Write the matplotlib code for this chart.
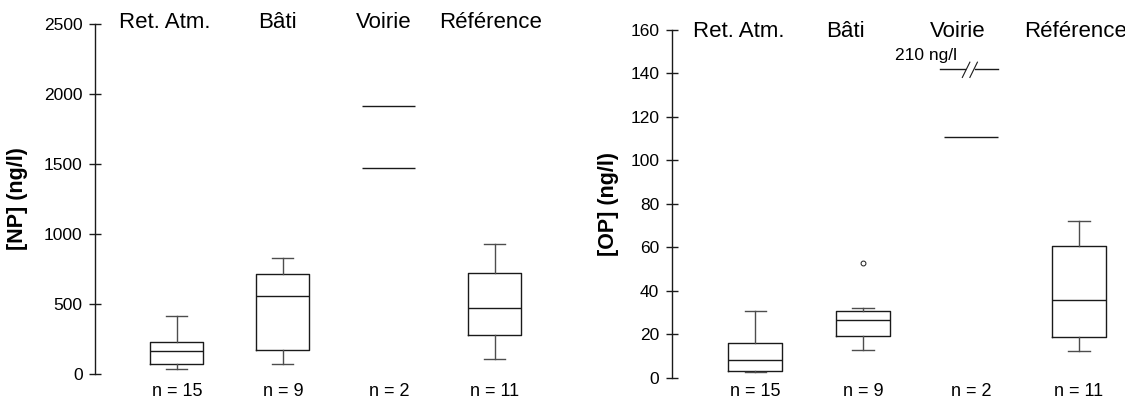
import matplotlib
matplotlib.use('Agg')
import matplotlib.pyplot as plt
import matplotlib.transforms as mtransforms

plt.rcParams['font.family'] = ['Liberation Sans', 'DejaVu Sans']

#### data
categories = ['Ret. Atm.', 'Bâti', 'Voirie', 'Référence']
n_counts = [15, 9, 2, 11]

## groups drawn as box plots (Voirie only has 2 values, drawn as lines)
box_groups = ['Ret. Atm.', 'Bâti', 'Référence']
box_pos = [1, 2, 4]

## [NP] (ng/l)
np_whislo = [33, 74, 109]
np_q1 = [71, 174, 276]
np_med = [167, 559, 474]
np_q3 = [231, 714, 724]
np_whishi = [414, 831, 931]
np_fliers = [[], [], []]
np_voirie = [1469, 1917]

## [OP] (ng/l)
op_whislo = [2.6, 12.9, 12.6]
op_q1 = [3.1, 19.3, 19.0]
op_med = [8.3, 26.5, 35.9]
op_q3 = [16.0, 30.7, 60.5]
op_whishi = [30.8, 32.0, 72.0]
op_fliers = [[], [53], []]
op_voirie = [110.5, 210]
op_break_at = 142   # the 210 value is drawn on a broken scale here


def make_stats(whislo, q1, med, q3, whishi, fliers):
    stats = []
    for i in range(len(med)):
        stats.append(dict(whislo=whislo[i], q1=q1[i], med=med[i], q3=q3[i],
                          whishi=whishi[i], fliers=fliers[i], label=box_groups[i]))
    return stats


box_col = '#1a1a1a'
whisk_col = '#4d4d4d'


def draw_panel(ax, stats, xlim, ylim, yticks, ylabel, label_x, label_y, label_xfig, label_yfig):
    ax.bxp(stats, positions=box_pos, widths=0.5, capwidths=0.2, manage_ticks=False,
           boxprops=dict(color=box_col, lw=1.0),
           medianprops=dict(color=box_col, lw=1.0),
           whiskerprops=dict(color=whisk_col, lw=1.0),
           capprops=dict(color=whisk_col, lw=1.0),
           flierprops=dict(marker='o', markersize=3.5, markerfacecolor='none',
                           markeredgecolor=box_col, markeredgewidth=0.7))
    ax.set_xlim(*xlim)
    ax.set_ylim(*ylim)
    ax.set_yticks(yticks)
    ax.set_xticks([])
    for s in ['top', 'right', 'bottom']:
        ax.spines[s].set_visible(False)
    ax.spines['left'].set_color(box_col)
    ax.spines['left'].set_linewidth(1.0)
    ax.tick_params(axis='y', direction='inout', length=8, width=1.0,
                   color=box_col, labelsize=12.5, pad=5)
    ## category names along the top
    for i, cat in enumerate(categories):
        ax.text(label_x[i], label_y, cat, transform=ax.get_xaxis_transform(),
                ha='center', va='center', fontsize=16, color='black')
    ## n = .. under each group (y in figure coords, near the bottom edge)
    tr = mtransforms.blended_transform_factory(ax.transData, fig.transFigure)
    for i, n in enumerate(n_counts):
        ax.text(i + 1, 0.016, 'n = %d' % n, transform=tr,
                ha='center', va='center', fontsize=13, color='black')
    fig.text(label_xfig, label_yfig, ylabel, rotation=90, ha='center', va='center',
             fontsize=15.5, fontweight='bold')


fig = plt.figure(figsize=(11.25, 3.98), dpi=100)

# x scale: ~106 px per group on the left, ~108 px on the right
ax1 = fig.add_axes([95 / 1125, 24 / 398, 4.172 * 106 / 1125, 350 / 398])
ax2 = fig.add_axes([671.7 / 1125, 20 / 398, 4.126 * 107.8 / 1125, 348.5 / 398])

draw_panel(ax1, make_stats(np_whislo, np_q1, np_med, np_q3, np_whishi, np_fliers),
           (0.228, 4.4), (0, 2500), range(0, 2501, 500), '[NP] (ng/l)',
           [0.89, 1.95, 2.95, 3.96], 1.003, 0.016, 0.5)
draw_panel(ax2, make_stats(op_whislo, op_q1, op_med, op_q3, op_whishi, op_fliers),
           (0.224, 4.35), (0, 160), range(0, 161, 20), '[OP] (ng/l)',
           [0.85, 1.84, 2.88, 3.97], 0.993, 0.5413, 0.488)

## Voirie: only two values, drawn as plain lines
ax1.hlines(np_voirie, 3 - 0.25, 3 + 0.25, color=box_col, lw=1.0)
ax2.hlines(op_voirie[0], 3 - 0.25, 3 + 0.25, color=box_col, lw=1.0)

# second Voirie value (210) drawn on a broken line
ax2.plot([3 - 0.29, 2.945], [op_break_at, op_break_at], color=box_col, lw=1.0)
ax2.plot([3.04, 3 + 0.25], [op_break_at, op_break_at], color=box_col, lw=1.0)
ax2.plot([2.92, 2.99], [138, 145], color=box_col, lw=0.8)
ax2.plot([2.99, 3.06], [138, 145], color=box_col, lw=0.8)
ax2.text(2.58, op_break_at + 2.5, '%d ng/l' % op_voirie[1], ha='center', va='bottom',
         fontsize=12.5)

fig.savefig('out.png', dpi=100)
